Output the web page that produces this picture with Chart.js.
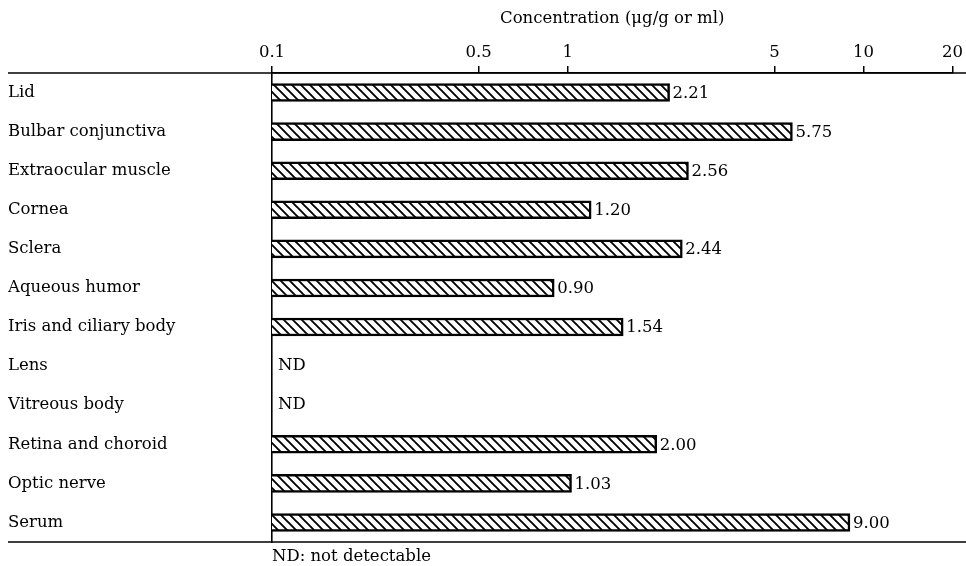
<!DOCTYPE html>
<html>
<head>
<meta charset="utf-8">
<script src="https://cdn.jsdelivr.net/npm/chart.js@4"></script>
<style>
  html, body { margin: 0; padding: 0; background: #fff; overflow: hidden; }
  #wrap { width: 966px; height: 566px; }
</style>
</head>
<body>
<div id="wrap"><canvas id="chart" width="966" height="566"></canvas></div>
<script>
'use strict';

// tissue names, top to bottom
const tissues = ['Lid', 'Bulbar conjunctiva', 'Extraocular muscle', 'Cornea', 'Sclera',
    'Aqueous humor', 'Iris and ciliary body', 'Lens', 'Vitreous body',
    'Retina and choroid', 'Optic nerve', 'Serum'];
// concentration (ug/g or ml), null = not detectable
const concentrations = [2.21, 5.75, 2.56, 1.20, 2.44, 0.90, 1.54, null, null, 2.00, 1.03, 9.00];
const tickValues = [0.1, 0.5, 1, 5, 10, 20];
const tickLabels = ['0.1', '0.5', '1', '5', '10', '20'];

const FONT = '"DejaVu Serif", "Liberation Serif", serif';
const FSIZE = 16.5;

// diagonal hatch like the printed figure
function hatchPattern() {
    const s = 9;
    const c = document.createElement('canvas');
    c.width = s; c.height = s;
    const g = c.getContext('2d');
    g.fillStyle = '#fff';
    g.fillRect(0, 0, s, s);
    g.strokeStyle = '#000';
    g.lineWidth = 1.9;
    g.beginPath();
    g.moveTo(-2, -2); g.lineTo(s + 2, s + 2);
    g.moveTo(-2, s - 2); g.lineTo(2, s + 2);
    g.moveTo(s - 2, -2); g.lineTo(s + 2, 2);
    g.stroke();
    return document.getElementById('chart').getContext('2d').createPattern(c, 'repeat');
}

// frame lines across the full width, value labels, ND marks and footnote
const decorations = {
    id: 'decorations',
    afterDatasetsDraw(chart) {
        const ctx = chart.ctx;
        const area = chart.chartArea;
        const yScale = chart.scales.y;
        ctx.save();
        ctx.strokeStyle = '#000';
        ctx.lineWidth = 1.6;
        ctx.beginPath();
        ctx.moveTo(8, area.top); ctx.lineTo(966, area.top);
        ctx.moveTo(8, area.bottom); ctx.lineTo(966, area.bottom);
        ctx.stroke();

        ctx.fillStyle = '#000';
        ctx.font = FSIZE + 'px ' + FONT;
        ctx.textBaseline = 'middle';
        ctx.textAlign = 'left';
        const meta = chart.getDatasetMeta(0);
        concentrations.forEach((v, i) => {
            const y = yScale.getPixelForValue(i);
            if (v === null) {
                ctx.fillText('ND', area.left + 6, y);
            } else {
                const bar = meta.data[i];
                ctx.fillText(v.toFixed(2), bar.x + 3, y + 1);
            }
        });
        ctx.textBaseline = 'top';
        ctx.fillText('ND: not detectable', area.left, area.bottom + 6);
        ctx.restore();
    }
};

const chart = new Chart(document.getElementById('chart'), {
    type: 'bar',
    data: {
        labels: tissues,
        datasets: [{
            data: concentrations,
            backgroundColor: hatchPattern(),
            borderColor: '#000',
            borderWidth: 2.5,
            borderSkipped: 'start',
            barThickness: 18,
        }]
    },
    options: {
        indexAxis: 'y',
        responsive: false,
        animation: false,
        layout: { padding: { left: 8, right: 8, top: 6, bottom: 24 } },
        plugins: {
            legend: { display: false },
            tooltip: { enabled: false },
        },
        scales: {
            x: {
                type: 'logarithmic',
                position: 'top',
                min: 0.1,
                max: 20,
                afterBuildTicks: (scale) => { scale.ticks = tickValues.map(v => ({ value: v })); },
                afterFit: (scale) => { scale.height = 67; },
                ticks: {
                    autoSkip: false,
                    maxRotation: 0,
                    color: '#000',
                    padding: 3,
                    font: { family: FONT, size: FSIZE },
                    callback: (v) => {
                        const i = tickValues.indexOf(v);
                        return i >= 0 ? tickLabels[i] : '';
                    }
                },
                grid: { drawOnChartArea: false, color: '#000', tickLength: 7, lineWidth: 1.5 },
                border: { display: true, color: '#000', width: 1.6 },
                title: {
                    display: true,
                    text: 'Concentration (\u03bcg/g or ml)',
                    color: '#000',
                    font: { family: FONT, size: FSIZE },
                    padding: { top: 3, bottom: 6 }
                }
            },
            y: {
                afterFit: (scale) => { scale.width = 264; },
                ticks: {
                    crossAlign: 'far',
                    color: '#000',
                    font: { family: FONT, size: FSIZE },
                },
                grid: { display: false },
                border: { display: true, color: '#000', width: 1.6 }
            }
        }
    },
    plugins: [decorations]
});
</script>
</body>
</html>
